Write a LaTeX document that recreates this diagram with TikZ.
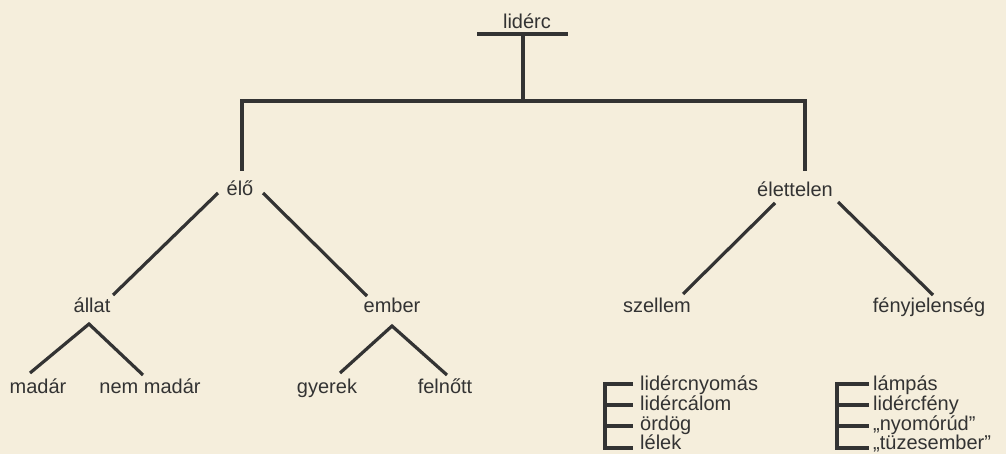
\documentclass[tikz,border=0pt]{standalone}
\usepackage{fontspec}
\setmainfont{Liberation Sans}
\definecolor{paper}{HTML}{F5EEDC}
\definecolor{ink}{HTML}{333333}
\begin{document}
\begin{tikzpicture}[x=1pt,y=-1pt,
  lbl/.style={font=\fontsize{20}{20}\selectfont, text=ink, inner sep=0pt, anchor=base},
  item/.style={lbl, anchor=base west},
  edge/.style={draw=ink, line width=3.2pt, line cap=butt, line join=miter}]
\fill[paper] (0,0) rectangle (1006,454);
\useasboundingbox (0,0) rectangle (1006,454);

% labels
\node[lbl] (liderc) at (527,29) {lidérc};
\node[lbl] (elo) at (240,196) {élő};
\node[lbl] (elettelen) at (795,197) {élettelen};
\node[lbl] (allat) at (92,312) {állat};
\node[lbl] (ember) at (392,312) {ember};
\node[lbl] (szellem) at (657,312) {szellem};
\node[lbl] (feny) at (929,312) {fényjelenség};
\node[lbl] (madar) at (38,393) {madár};
\node[lbl] (nemmadar) at (150,393) {nem madár};
\node[lbl] (gyerek) at (327,393) {gyerek};
\node[lbl] (felnott) at (445,393) {felnőtt};

\node[item] (l1) at (640,390) {lidércnyomás};
\node[item] (l2) at (640,410) {lidércálom};
\node[item] (l3) at (640,430) {ördög};
\node[item] (l4) at (640,449) {lélek};
\node[item] (r1) at (873,390) {lámpás};
\node[item] (r2) at (873,410) {lidércfény};
\node[item] (r3) at (873,430) {„nyomórúd”};
\node[item] (r4) at (873,449) {„tüzesember”};

% top tree
\coordinate (barL) at (477,34);
\coordinate (barR) at (568,34);
\coordinate (stem) at (523,34);
\coordinate (hub) at (523,101);
\coordinate (hL) at (242,101);
\coordinate (hR) at (805,101);
\coordinate (vL) at (242,171);
\coordinate (vR) at (805,171);
\draw[edge] (barL) -- (barR);
\draw[edge] (stem) -- (hub);
\draw[edge] (vL) -- (hL) -- (hR) -- (vR);

% elo branches
\coordinate (eloL) at (218,193);
\coordinate (eloR) at (263,193);
\coordinate (allatT) at (113,295);
\coordinate (emberT) at (367,296);
\draw[edge] (eloL) -- (allatT);
\draw[edge] (eloR) -- (emberT);

% elettelen branches
\coordinate (eteL) at (775,203);
\coordinate (eteR) at (838,202);
\coordinate (szellemT) at (683,294);
\coordinate (fenyT) at (933,295);
\draw[edge] (eteL) -- (szellemT);
\draw[edge] (eteR) -- (fenyT);

% allat V
\coordinate (allatV) at (89,324);
\coordinate (madarT) at (30,373);
\coordinate (nemT) at (143,375);
\draw[edge] (madarT) -- (allatV) -- (nemT);

% ember V
\coordinate (emberV) at (392,326);
\coordinate (gyerekT) at (340,373);
\coordinate (felnottT) at (447,375);
\draw[edge] (gyerekT) -- (emberV) -- (felnottT);

% brackets
\draw[edge] (633,384) -- (605,384) -- (605,448) -- (633,448);
\draw[edge] (605,405) -- (633,405);
\draw[edge] (605,426) -- (633,426);
\draw[edge] (869,384) -- (837,384) -- (837,448) -- (869,448);
\draw[edge] (837,405) -- (869,405);
\draw[edge] (837,426) -- (869,426);
\end{tikzpicture}
\end{document}
